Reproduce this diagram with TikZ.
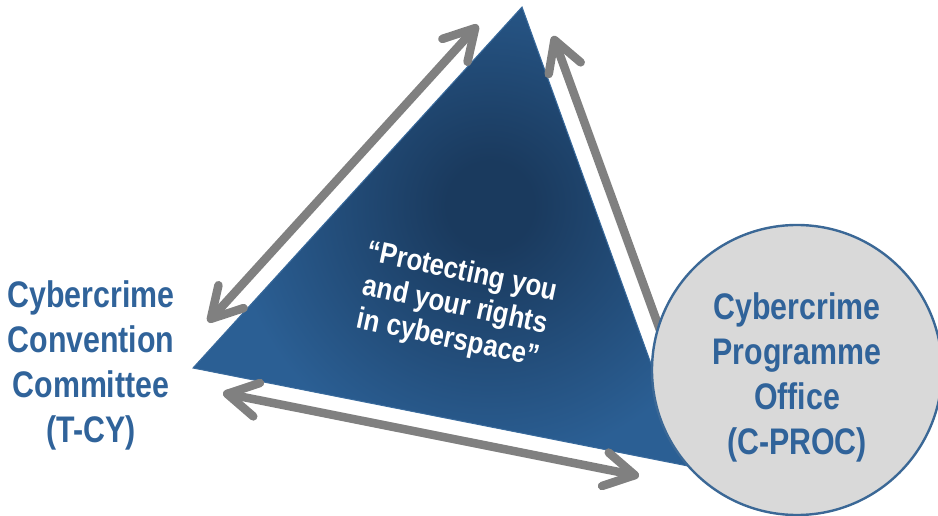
\documentclass[tikz,border=0pt]{standalone}
\usepackage{fontspec}
\setmainfont{Liberation Sans}
\newfontfamily\labfont[FakeStretch=0.82]{Liberation Sans}
\newfontfamily\quotefont[FakeStretch=0.86]{Liberation Sans}
\usetikzlibrary{arrows.meta}

\definecolor{labelblue}{HTML}{30639A}
\definecolor{tridark}{HTML}{1A3A5E}
\definecolor{triedge}{HTML}{2B5F94}
\definecolor{tririm}{HTML}{3A6B9D}
\definecolor{arrowgray}{HTML}{808080}
\definecolor{discfill}{HTML}{D9D9D9}
\definecolor{discrim}{HTML}{3B6896}

% darker glow in the upper middle of the triangle
\pgfdeclareradialshading{triglow}{\pgfpoint{0bp}{0bp}}{%
  color(0bp)=(tridark); color(3bp)=(tridark);
  color(18bp)=(triedge); color(50bp)=(triedge)}

\begin{document}
\begin{tikzpicture}[x=1pt,y=-1pt,
  barb/.tip={Straight Barb[length=30pt,width=34pt,round]},
  twoway/.style={draw=arrowgray,line width=8.5pt,{barb}-{barb}},
  oneway/.style={draw=arrowgray,line width=8.5pt,-{barb}},
  lab/.style={font=\labfont\bfseries\fontsize{37}{45}\selectfont,
    text=labelblue,align=center,inner sep=0pt},
  quote/.style={font=\quotefont\bfseries\fontsize{30}{34}\selectfont,
    text=white,align=center,inner sep=0pt},
  disc/.style={circle,fill=discfill,draw=discrim,line width=2.4pt,
    minimum size=290pt,inner sep=0pt}]
\useasboundingbox (0,0) rectangle (938,516);

% triangle corners
\coordinate (apex) at (522,7);
\coordinate (lft) at (193,368);
\coordinate (rgt) at (688,466);

% shaded triangle
\begin{scope}
  \clip (apex) -- (lft) -- (rgt) -- cycle;
  \shade[shading=triglow] (490,205) circle[radius=360];
\end{scope}
\draw[tririm,line width=1pt,line join=miter] (apex) -- (lft) -- (rgt) -- cycle;

% arrow end points
\coordinate (bl) at (223,393);
\coordinate (br) at (639,476);
\coordinate (ll) at (208,322);
\coordinate (lu) at (478,25);
\coordinate (rl) at (680,385);
\coordinate (ru) at (553,36);

\draw[twoway] (bl) -- (br);
\draw[twoway] (ll) -- (lu);
\draw[oneway] (rl) -- (ru);

% programme office disc
\node[disc] (cproc) at (797,370) {};
\node[lab] (cproctext) at (797,377)
  {Cybercrime\\Programme\\Office\\(C-PROC)};

% committee label
\node[lab] (tcy) at (91,365)
  {Cybercrime\\Convention\\Committee\\(T-CY)};

% top label, running off the upper edge
\node[lab,anchor=base] (top) at (500,-2) {Common standards};

% motto inside the triangle
\node[quote,rotate=-12] (motto) at (455,306)
  {“Protecting you\\and your rights\\in cyberspace”};
\end{tikzpicture}
\end{document}
